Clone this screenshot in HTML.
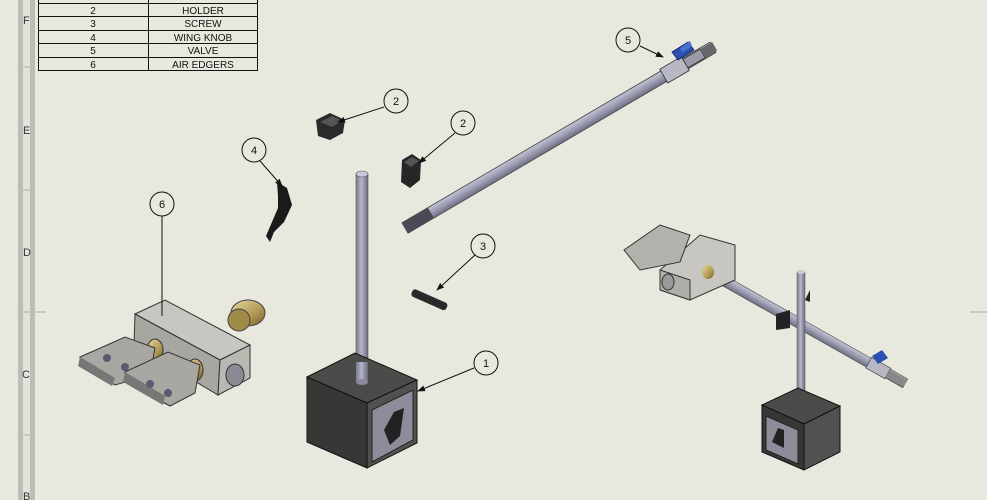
<!DOCTYPE html>
<html><head><meta charset="utf-8"><style>
html,body{margin:0;padding:0;background:#e8e8df;}
svg{display:block;font-family:"Liberation Sans",sans-serif;}
</style></head><body>
<svg width="987" height="500" viewBox="0 0 987 500" xmlns="http://www.w3.org/2000/svg">
<defs>
<marker id="ar" markerWidth="8" markerHeight="6" refX="7" refY="3" orient="auto"><path d="M0,0 L8,3 L0,6 z" fill="#111"/></marker>
<linearGradient id="rod" x1="0" y1="0" x2="0" y2="1"><stop offset="0" stop-color="#c4c4d6"/><stop offset=".5" stop-color="#9c9cb2"/><stop offset="1" stop-color="#6e6e82"/></linearGradient>
<linearGradient id="vrod" x1="0" y1="0" x2="1" y2="0"><stop offset="0" stop-color="#7a7a8e"/><stop offset=".45" stop-color="#b6b6c8"/><stop offset="1" stop-color="#6a6a7c"/></linearGradient>
<linearGradient id="brass" x1="0" y1="0" x2="1" y2="1"><stop offset="0" stop-color="#e6d7a0"/><stop offset=".6" stop-color="#b39a55"/><stop offset="1" stop-color="#6e5a2a"/></linearGradient>
</defs>
<rect width="987" height="500" fill="#e8e8df"/>
<rect x="18" y="0" width="5" height="500" fill="#bdbdb7"/>
<rect x="23" y="0" width="7" height="500" fill="#e3e3dc"/>
<rect x="30" y="0" width="5" height="500" fill="#bdbdb7"/>
<line x1="20" y1="312" x2="46" y2="312" stroke="#c0c0ba" stroke-width="1.5"/>
<line x1="20" y1="435" x2="30" y2="435" stroke="#c0c0ba" stroke-width="1.5"/>
<line x1="20" y1="190" x2="30" y2="190" stroke="#c0c0ba" stroke-width="1.5"/>
<line x1="20" y1="67" x2="30" y2="67" stroke="#c0c0ba" stroke-width="1.5"/>
<line x1="970" y1="312" x2="987" y2="312" stroke="#c0c0ba" stroke-width="1.5"/>
<g font-size="11" fill="#333">
<text x="23" y="24">F</text><text x="23" y="134">E</text><text x="23" y="256">D</text><text x="22" y="378">C</text><text x="23" y="500">B</text>
</g>
<g stroke="#111" stroke-width="1" fill="none">
<rect x="38.5" y="-1" width="219" height="71.5"/>
<line x1="148.5" y1="-1" x2="148.5" y2="70"/>
<line x1="38" y1="3.5" x2="257" y2="3.5"/><line x1="38" y1="16.5" x2="257" y2="16.5"/><line x1="38" y1="30.5" x2="257" y2="30.5"/><line x1="38" y1="43.5" x2="257" y2="43.5"/><line x1="38" y1="57.5" x2="257" y2="57.5"/>
</g>
<g font-size="10" fill="#111" text-anchor="middle">
<text x="93" y="14">2</text><text x="203" y="14">HOLDER</text>
<text x="93" y="27">3</text><text x="203" y="27">SCREW</text>
<text x="93" y="41">4</text><text x="203" y="41">WING KNOB</text>
<text x="93" y="54">5</text><text x="203" y="54">VALVE</text>
<text x="93" y="68">6</text><text x="203" y="68">AIR EDGERS</text>
</g>

<g transform="translate(405,228) rotate(-30.4)">
<rect x="0" y="-6" width="357" height="12" fill="url(#rod)" stroke="#444" stroke-width=".8"/>
<rect x="0" y="-6" width="30" height="12" fill="#4a4a55"/>
<rect x="300" y="-8" width="25" height="16" fill="#b8b8c4" stroke="#333" stroke-width=".8"/>
<rect x="325" y="-5" width="20" height="10" fill="#9a9aa8" stroke="#333" stroke-width=".8"/>
<rect x="345" y="-5" width="14" height="10" fill="#666"/>
</g>
<polygon points="672,52 688,42 694,50 678,60" fill="#2a4fb0" stroke="#102060" stroke-width=".8"/>
<polygon points="680,48 690,41 692,46 682,53" fill="#4a70d0"/>

<path d="M316,120 L330,113 L345,120 L343,133 L330,140 L318,136 Z" fill="#2a2a2a"/>
<path d="M320,122 L332,116 L342,121 L332,127 Z" fill="#555"/>
<path d="M402,160 L412,154 L421,160 L420,180 L410,188 L401,182 Z" fill="#262626"/>
<path d="M404,162 L412,157 L419,161 L411,167 Z" fill="#555"/>
<path d="M277,182 L287,188 L292,205 L284,222 L274,232 L270,242 L266,236 L272,222 L278,208 L278,196 Z" fill="#1a1a1a"/>
<g transform="translate(412,292) rotate(24)"><rect x="0" y="-4" width="38" height="8" rx="3" fill="#2a2a2a"/></g>
<ellipse cx="248" cy="313" rx="17" ry="13" fill="url(#brass)" stroke="#444"/>
<ellipse cx="239" cy="320" rx="11" ry="11" fill="#a08a48" stroke="#444"/>

<rect x="356" y="174" width="12" height="208" fill="url(#vrod)" stroke="#555" stroke-width=".6"/>
<ellipse cx="362" cy="174" rx="6" ry="3" fill="#c8c8d8" stroke="#555" stroke-width=".6"/>
<polygon points="307,377 355,353 417,380 367,403" fill="#4a4c4a" stroke="#111"/>
<polygon points="307,377 367,403 367,468 307,442" fill="#363836" stroke="#111"/>
<polygon points="367,403 417,380 417,443 367,468" fill="#505250" stroke="#111"/>
<polygon points="372,410 413,390 413,440 372,462" fill="#8c8c9a" stroke="#222"/>
<path d="M384,430 L394,412 L404,408 L400,436 L390,445 Z" fill="#222"/>
<rect x="356" y="362" width="12" height="20" fill="url(#vrod)"/>
<ellipse cx="362" cy="382" rx="6" ry="3" fill="#8a8a9a"/>

<polygon points="135,314 165,300 250,345 220,360" fill="#c8c6c0" stroke="#333"/>
<polygon points="135,314 220,360 218,395 134,345" fill="#a8a6a0" stroke="#333"/>
<polygon points="220,360 250,345 250,378 218,395" fill="#bab8b2" stroke="#333"/>
<ellipse cx="235" cy="375" rx="9" ry="11" fill="#8a8a94" stroke="#333"/>
<ellipse cx="155" cy="350" rx="8" ry="11" fill="url(#brass)" stroke="#333"/>
<ellipse cx="195" cy="370" rx="8" ry="11" fill="url(#brass)" stroke="#333"/>
<polygon points="80,357 125,337 155,348 150,375 115,385 80,365" fill="#a9a7a1" stroke="#333"/>
<polygon points="80,357 115,378 112,386 78,366" fill="#777"/>
<polygon points="125,372 168,352 200,365 195,393 170,406 125,382" fill="#a9a7a1" stroke="#333"/>
<polygon points="125,372 165,396 163,405 123,382" fill="#777"/>
<circle cx="107" cy="358" r="4" fill="#5a5a70"/><circle cx="125" cy="367" r="4" fill="#5a5a70"/>
<circle cx="150" cy="384" r="4" fill="#5a5a70"/><circle cx="168" cy="393" r="4" fill="#5a5a70"/>

<g transform="translate(712,274) rotate(29.5)">
<rect x="0" y="-5" width="222" height="10" fill="url(#rod)" stroke="#444" stroke-width=".6"/>
<rect x="180" y="-6" width="22" height="12" fill="#b8b8c4" stroke="#333" stroke-width=".6"/>
<rect x="202" y="-4" width="20" height="8" fill="#888"/>
</g>
<polygon points="872,356 882,350 888,358 878,364" fill="#2a4fb0"/>
<rect x="797" y="272" width="8" height="140" fill="url(#vrod)" stroke="#555" stroke-width=".5"/>
<ellipse cx="801" cy="272" rx="4" ry="2" fill="#c8c8d8"/>
<path d="M776,314 L790,310 L790,328 L776,330 Z" fill="#222"/>
<path d="M805,300 L810,290 L810,302 Z" fill="#222"/>
<polygon points="762,405 798,388 840,406 804,424" fill="#4a4c4a" stroke="#111"/>
<polygon points="762,405 804,424 804,470 762,452" fill="#363836" stroke="#111"/>
<polygon points="804,424 840,406 840,452 804,470" fill="#505250" stroke="#111"/>
<polygon points="766,416 798,430 798,464 766,450" fill="#8c8c9a" stroke="#222"/>
<path d="M772,442 L778,428 L784,430 L784,448 Z" fill="#222"/>
<polygon points="660,270 700,235 735,245 735,280 690,300 660,290" fill="#c8c6c0" stroke="#333"/>
<polygon points="660,270 690,280 690,300 660,290" fill="#b0aea8" stroke="#333"/>
<ellipse cx="668" cy="282" rx="6" ry="8" fill="#999" stroke="#333"/>
<ellipse cx="708" cy="272" rx="6" ry="7" fill="url(#brass)"/>
<polygon points="624,250 660,225 690,235 680,262 640,270" fill="#b4b2ac" stroke="#333"/>

<g fill="#e8e8df" stroke="#111" stroke-width="1">
<line x1="640" y1="46" x2="663" y2="57" marker-end="url(#ar)"/>
<line x1="384" y1="107" x2="338" y2="122" marker-end="url(#ar)"/>
<line x1="455" y1="133" x2="419" y2="163" marker-end="url(#ar)"/>
<line x1="260" y1="161" x2="282" y2="186" marker-end="url(#ar)"/>
<line x1="162" y1="216" x2="162" y2="316"/>
<line x1="475" y1="255" x2="437" y2="290" marker-end="url(#ar)"/>
<line x1="474" y1="368" x2="418" y2="391" marker-end="url(#ar)"/>
<circle cx="628" cy="40" r="12"/><circle cx="396" cy="101" r="12"/><circle cx="463" cy="123" r="12"/><circle cx="254" cy="150" r="12"/><circle cx="162" cy="204" r="12"/><circle cx="483" cy="246" r="12"/><circle cx="486" cy="363" r="12"/>
</g>
<g font-size="11" fill="#111" text-anchor="middle">
<text x="628" y="44">5</text><text x="396" y="105">2</text><text x="463" y="127">2</text><text x="254" y="154">4</text><text x="162" y="208">6</text><text x="483" y="250">3</text><text x="486" y="367">1</text>
</g>
</svg>
</body></html>
